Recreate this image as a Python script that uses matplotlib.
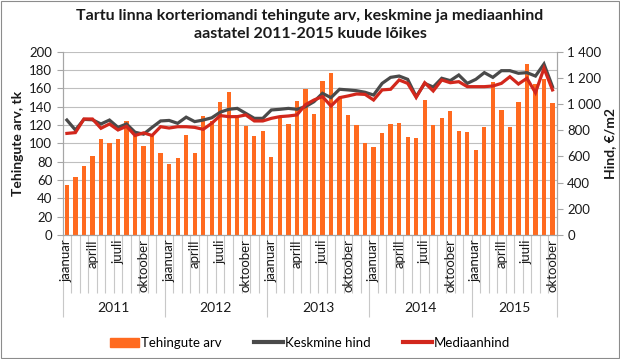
import numpy as np
import matplotlib
matplotlib.use("Agg")
import matplotlib.pyplot as plt
from matplotlib.patches import Rectangle
from matplotlib.lines import Line2D
from matplotlib.ticker import FuncFormatter, MultipleLocator

plt.rcParams["font.family"] = ["Lato", "DejaVu Sans"]

YEARS = ["2011", "2012", "2013", "2014", "2015"]
MONTHS_PER_YEAR = [12, 12, 12, 12, 10]
MONTH_NAMES = ["jaanuar", "", "", "aprill", "", "", "juuli", "", "", "oktoober", "", ""]

# tehingute arv (tk)
tehingud = [55, 63, 75, 86, 105, 100, 105, 124, 108, 97, 108, 90,
            78, 84, 109, 90, 130, 124, 145, 156, 131, 119, 108, 113,
            85, 128, 121, 146, 159, 132, 168, 177, 149, 131, 120, 100,
            96, 111, 121, 122, 107, 106, 147, 120, 128, 135, 113, 112,
            93, 118, 167, 136, 118, 145, 187, 165, 170, 144]

# keskmine hind (EUR/m2)
keskmine = [878, 802, 883, 880, 848, 878, 822, 848, 785, 770, 822, 871,
            875, 853, 900, 866, 878, 895, 938, 960, 967, 929, 891, 891,
            955, 960, 967, 960, 980, 1018, 1082, 1049, 1113, 1108, 1102, 1090,
            1069, 1158, 1204, 1214, 1189, 1057, 1158, 1130, 1197, 1179, 1222, 1158,
            1189, 1240, 1204, 1255, 1255, 1235, 1240, 1214, 1306, 1133]

# mediaanhind (EUR/m2)
mediaan = [776, 782, 886, 886, 815, 848, 802, 830, 760, 780, 760, 827,
           817, 827, 827, 822, 807, 853, 912, 904, 904, 917, 871, 871,
           891, 904, 909, 917, 995, 1031, 1057, 985, 1049, 1062, 1077, 1074,
           1031, 1108, 1113, 1184, 1158, 1051, 1163, 1100, 1184, 1163, 1171, 1133,
           1133, 1133, 1138, 1158, 1209, 1153, 1197, 1087, 1273, 1108]

ORANGE = "#FF6A1F"
GRAY = "#4A4A4A"
RED = "#D2271C"
TXT = "#1A1A1A"

n = len(tehingud)
x = np.arange(n)

fig = plt.figure(figsize=(6.2, 3.59), dpi=100)
fig.patches.append(Rectangle((0.002, 0.003), 0.996, 0.994, transform=fig.transFigure,
                             fill=False, edgecolor="#8C8C8C", linewidth=0.8))

ax = fig.add_axes([0.101, 0.3454, 0.797, 0.5106])
ax2 = ax.twinx()

ax.bar(x, tehingud, width=0.5, color=ORANGE, zorder=2)
ax2.plot(x, keskmine, color=GRAY, linewidth=2.3, solid_joinstyle="miter", zorder=3)
ax2.plot(x, mediaan, color=RED, linewidth=2.3, solid_joinstyle="miter", zorder=4)

ax.set_zorder(1)
ax2.set_zorder(2)
ax.patch.set_visible(False)

ax.set_xlim(-0.5, n - 0.5)
ax.set_ylim(0, 200)
ax2.set_ylim(0, 1400)
ax.yaxis.set_major_locator(MultipleLocator(20))
ax2.yaxis.set_major_locator(MultipleLocator(200))
ax2.yaxis.set_major_formatter(FuncFormatter(lambda v, p: f"{int(v):,}".replace(",", " ")))
ax.grid(axis="y", color="#BFBFBF", linewidth=0.8, zorder=0)

for a in (ax, ax2):
    a.spines["top"].set_visible(False)
    for s in ("left", "right", "bottom"):
        a.spines[s].set_color("#A6A6A6")
        a.spines[s].set_linewidth(0.8)
    a.tick_params(axis="y", colors="#A6A6A6", labelcolor=TXT, labelsize=9.5, length=4, width=0.8)

# month boundary ticks and year boundary ticks
bounds = np.arange(n + 1) - 0.5
starts = np.concatenate([[0], np.cumsum(MONTHS_PER_YEAR)]) - 0.5
ax.set_xticks(starts)
ax.set_xticks([b for b in bounds if b not in starts], minor=True)
ax.tick_params(axis="x", which="major", length=59, width=0.8, color="#C8C8C8", labelbottom=False)
ax.tick_params(axis="x", which="minor", length=42, width=0.8, color="#C8C8C8", labelbottom=False)

i = 0
for yr, cnt in zip(YEARS, MONTHS_PER_YEAR):
    for m in range(cnt):
        if MONTH_NAMES[m]:
            ax.text(i + m, -0.022, MONTH_NAMES[m], transform=ax.get_xaxis_transform(),
                    rotation=90, ha="center", va="top", fontsize=9.5, color=TXT)
    ax.text(i + (cnt - 1) / 2, -0.398, yr, transform=ax.get_xaxis_transform(),
            ha="center", va="center", fontsize=10, color=TXT)
    i += cnt

ax.set_ylabel("Tehingute arv, tk", fontsize=10, fontweight="bold", color=TXT, labelpad=4)
ax2.set_ylabel("Hind, €/m2", fontsize=10, fontweight="bold", color=TXT, labelpad=2)

fig.text(0.5, 0.955, "Tartu linna korteriomandi tehingute arv, keskmine ja mediaanhind",
         ha="center", va="center", fontsize=11.5, fontweight="bold", color=TXT)
fig.text(0.5, 0.905, "aastatel 2011-2015 kuude lõikes",
         ha="center", va="center", fontsize=11.5, fontweight="bold", color=TXT)

handles = [Rectangle((0, 0), 1, 1, color=ORANGE),
           Line2D([], [], color=GRAY, linewidth=3),
           Line2D([], [], color=RED, linewidth=3)]
fig.legend(handles, ["Tehingute arv", "Keskmine hind", "Mediaanhind"],
           loc="center", bbox_to_anchor=(0.5, 0.045), ncol=3, frameon=False,
           fontsize=9.5, handlelength=2.2, handletextpad=0.2, columnspacing=2.4)

fig.savefig("out.png", dpi=100)
